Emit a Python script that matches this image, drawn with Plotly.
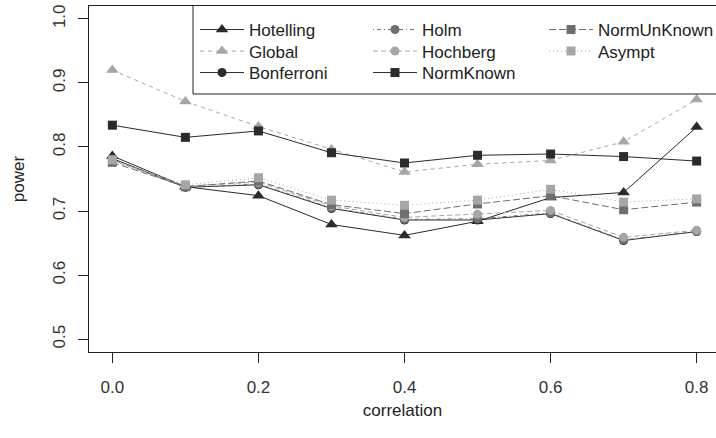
import plotly.graph_objects as go

corr = [0.0, 0.1, 0.2, 0.3, 0.4, 0.5, 0.6, 0.7, 0.8]
hotelling = [0.786, 0.738, 0.724, 0.679, 0.662, 0.684, 0.721, 0.729, 0.831]
global_ = [0.920, 0.871, 0.832, 0.796, 0.761, 0.773, 0.779, 0.808, 0.874]
bonferroni = [0.782, 0.737, 0.741, 0.704, 0.686, 0.686, 0.696, 0.654, 0.668]
holm = [0.780, 0.737, 0.742, 0.705, 0.687, 0.688, 0.697, 0.655, 0.668]
hochberg = [0.779, 0.739, 0.745, 0.708, 0.690, 0.695, 0.701, 0.659, 0.670]
normknown = [0.834, 0.815, 0.825, 0.791, 0.775, 0.787, 0.789, 0.785, 0.778]
normunknown = [0.776, 0.738, 0.747, 0.710, 0.696, 0.711, 0.724, 0.702, 0.714]
asympt = [0.780, 0.741, 0.752, 0.717, 0.709, 0.717, 0.734, 0.714, 0.719]

y_ticks = [0.5, 0.6, 0.7, 0.8, 0.9, 1.0]
x_ticks = [0.0, 0.2, 0.4, 0.6, 0.8]

DARK = "#2b2b2b"
MID = "#6e6e6e"
LIGHT = "#a6a6a6"
FONT = "Liberation Sans, Arial, sans-serif"
FS = 17

W, H = 716, 438
ml, mr, mt, mb = 89, 0, 6, 86
pw, ph = W - ml - mr, H - mt - mb


def px2x(px):
    return (px - ml) / pw


def py2y(py):
    return (H - mb - py) / ph


# legend columns (left px of legend box) and rows (centre px)
col_px = [195, 368, 544]
row_px = [30, 51.5, 73]

series = [
    # name, values, color, symbol, size, dash, (col, row)
    ("Hotelling", hotelling, DARK, "triangle-up", 11, "solid", (0, 0)),
    ("Global", global_, LIGHT, "triangle-up", 11, "4px,4px", (0, 1)),
    ("Bonferroni", bonferroni, DARK, "circle", 9, "solid", (0, 2)),
    ("Holm", holm, MID, "circle", 9, "1px,3px,4px,3px", (1, 0)),
    ("Hochberg", hochberg, LIGHT, "circle", 9, "5px,3px", (1, 1)),
    ("NormKnown", normknown, DARK, "square", 9, "solid", (1, 2)),
    ("NormUnKnown", normunknown, MID, "square", 9, "7px,3px", (2, 0)),
    ("Asympt", asympt, LIGHT, "square", 9, "1px,3px", (2, 1)),
]

fig = go.Figure()
legends = {}
for i, (name, vals, col, sym, size, dash, (c, r)) in enumerate(series):
    lname = "legend" if i == 0 else f"legend{i + 1}"
    fig.add_trace(go.Scatter(
        x=corr, y=vals, name=name, mode="lines+markers",
        line=dict(color=col, width=1, dash=dash),
        marker=dict(color=col, symbol=sym, size=size, line=dict(width=0)),
        legend=lname,
    ))
    legends[lname] = dict(
        x=px2x(col_px[c]), y=py2y(row_px[r]),
        xanchor="left", yanchor="middle", xref="paper", yref="paper",
        bgcolor="rgba(0,0,0,0)", borderwidth=0,
        font=dict(family=FONT, size=FS, color="#222222"),
        itemwidth=44,
    )

fig.update_layout(
    width=W, height=H,
    margin=dict(l=ml, r=mr, t=mt, b=mb, pad=0, autoexpand=False),
    paper_bgcolor="white", plot_bgcolor="white",
    font=dict(family=FONT, size=FS, color="#222222"),
    showlegend=True,
    xaxis=dict(
        range=[-0.032, 0.8265], tickvals=x_ticks,
        ticktext=[f"{v:.1f}" for v in x_ticks],
        ticks="outside", ticklen=10, tickcolor="#222222", tickwidth=1,
        showline=True, linecolor="#222222", linewidth=1, mirror=True,
        showgrid=False, zeroline=False, automargin=False,
        ticklabelstandoff=10,
        title=dict(text="correlation", standoff=7, font=dict(size=FS)),
        tickfont=dict(size=FS, color="#333333"),
    ),
    yaxis=dict(
        range=[0.48, 1.02], tickvals=y_ticks,
        ticktext=[f"{v:.1f}" for v in y_ticks],
        ticks="outside", ticklen=10, tickcolor="#222222", tickwidth=1,
        tickangle=-90, automargin=False,
        showline=True, linecolor="#222222", linewidth=1, mirror=False,
        showgrid=False, zeroline=False,
        ticklabelstandoff=6,
        title=dict(text="power", standoff=21, font=dict(size=FS)),
        tickfont=dict(size=FS, color="#333333"),
    ),
    shapes=[
        dict(type="path", xref="paper", yref="paper",
             path=f"M {px2x(193)},1 L {px2x(193)},{py2y(94)} L 1,{py2y(94)}",
             line=dict(color="#222222", width=1),
             layer="above"),
    ],
    **legends,
)

fig.write_html("out.html", config={"displayModeBar": False})
